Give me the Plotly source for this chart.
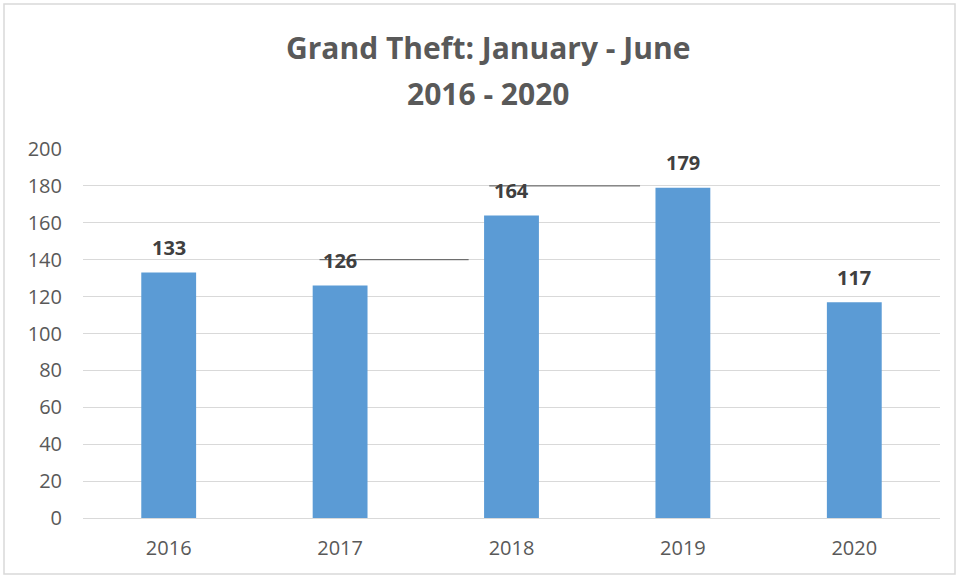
import plotly.graph_objects as go

years = ["2016", "2017", "2018", "2019", "2020"]
values = [133, 126, 164, 179, 117]
y_ticks = [0, 20, 40, 60, 80, 100, 120, 140, 160, 180, 200]
title_lines = ["Grand Theft: January - June", "2016 - 2020"]

FONT = "Open Sans, sans-serif"
PLOT_H = 578 - 149 - 60
PLOT_W = 959 - 83 - 19

fig = go.Figure()
fig.add_trace(go.Bar(
    x=list(range(len(years))),
    y=values,
    width=0.32,
    marker=dict(color="#5B9BD5", line=dict(width=0)),
    hoverinfo="y",
))

# data labels
for i, v in enumerate(values):
    fig.add_annotation(x=i, y=v, xref="x", yref="y", text=f"<b>{v}</b>",
                       showarrow=False, yanchor="middle", yshift=25,
                       font=dict(family=FONT, size=20, color="#404040"))

# title lines
for text, ypix in zip(title_lines, [48, 94]):
    fig.add_annotation(x=(488 - 83) / PLOT_W, xref="paper", y=(518 - ypix) / PLOT_H, yref="paper",
                       text=f"<b>{text}</b>", showarrow=False,
                       xanchor="center", yanchor="middle",
                       font=dict(family=FONT, size=30, color="#595959"))

fig.update_layout(
    width=959, height=578,
    margin=dict(l=83, r=19, t=149, b=60),
    paper_bgcolor="white",
    plot_bgcolor="white",
    showlegend=False,
    xaxis=dict(
        tickmode="array",
        tickvals=list(range(len(years))),
        ticktext=years,
        range=[-0.5, len(years) - 0.5],
        showgrid=False,
        showline=False,
        zeroline=False,
        ticks="",
        ticklabelstandoff=16,
        tickfont=dict(family=FONT, size=20, color="#595959"),
    ),
    yaxis=dict(
        range=[0, 200],
        tickvals=y_ticks,
        showgrid=True,
        gridcolor="#D9D9D9",
        gridwidth=1,
        zeroline=True,
        zerolinecolor="#D9D9D9",
        zerolinewidth=1,
        ticks="",
        ticklabelstandoff=20,
        tickfont=dict(family=FONT, size=20, color="#595959"),
    ),
)

# outer frame of the chart area
fig.add_shape(type="rect", xref="paper", yref="paper",
              x0=-79 / PLOT_W, x1=1 + 15 / PLOT_W, y0=-56 / PLOT_H, y1=1 + 145 / PLOT_H,
              line=dict(color="#D9D9D9", width=1.5), fillcolor="rgba(0,0,0,0)", layer="below")

# scan artifact lines
fig.add_shape(type="line", xref="x", yref="y", x0=0.88, x1=1.75, y0=140, y1=140,
              line=dict(color="#555555", width=1))
fig.add_shape(type="line", xref="x", yref="y", x0=1.87, x1=2.75, y0=180, y1=180,
              line=dict(color="#555555", width=1))

fig.write_html("out.html")
